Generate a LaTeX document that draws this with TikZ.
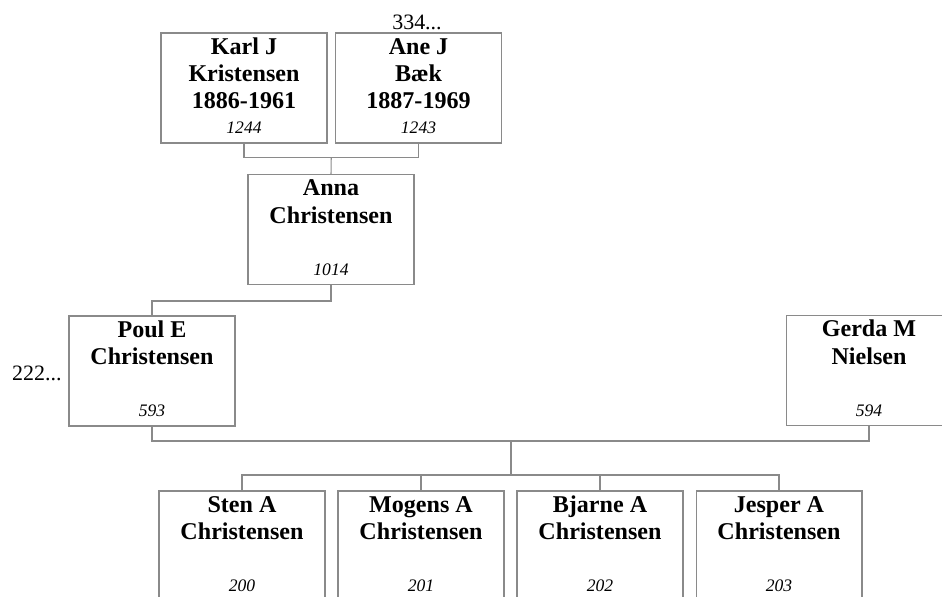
\documentclass[tikz,border=0pt]{standalone}
\usepackage{fontspec}
\setmainfont{Liberation Serif}
\usepackage{xcolor}
\usepackage{tikz}
\usetikzlibrary{positioning, calc}
\definecolor{famline}{HTML}{8A8A8A}
\newcommand{\topline}{\rule{0pt}{11pt}}

\begin{document}
\begin{tikzpicture}[
    x=0.02cm, y=-0.02cm,
    person/.style={draw=famline, line width=0.6pt, fill=white, minimum width=3.32cm, minimum height=2.2cm, inner sep=0pt},
    nametext/.style={anchor=north, yshift=-0.04cm, inner sep=0pt, align=center, font=\fontsize{13.7}{15.6}\selectfont\bfseries},
    numtext/.style={anchor=south, yshift=0.19cm, inner sep=0pt, font=\fontsize{10}{11}\selectfont\itshape},
    link/.style={draw=famline, line width=0.6pt},
    more/.style={inner sep=0pt, font=\fontsize{12.5}{14}\selectfont}
]
    \useasboundingbox (0,0) rectangle (942,596);
    \clip (0,0) rectangle (942,596);

    % Grandparents
    \node[person, label={[nametext]north:\topline Karl J\\Kristensen\\1886-1961}, label={[numtext]south:1244}] (karl) at (244,88) {};
    \node[person, label={[nametext]north:\topline Ane J\\Bæk\\1887-1969}, label={[numtext]south:1243}] (ane) at (418.5,88) {};
    \node[more] (anemore) at (417,22) {334...};

    % Mother
    \node[person, label={[nametext]north:\topline Anna\\Christensen}, label={[numtext]south:1014}] (anna) at (331,229.5) {};

    % Parents
    \node[person, label={[nametext]north:\topline Poul E\\Christensen}, label={[numtext]south:593}] (poul) at (152,371) {};
    \node[more, anchor=east] (poulmore) at (62,373) {222...};
    \node[person, label={[nametext]north:\topline Gerda M\\Nielsen}, label={[numtext]south:594}] (gerda) at (869,370.5) {};

    % Children
    \node[person, label={[nametext]north:\topline Sten A\\Christensen}, label={[numtext]south:200}] (sten) at (242,546) {};
    \node[person, label={[nametext]north:\topline Mogens A\\Christensen}, label={[numtext]south:201}] (mogens) at (421,546) {};
    \node[person, label={[nametext]north:\topline Bjarne A\\Christensen}, label={[numtext]south:202}] (bjarne) at (600,546) {};
    \node[person, label={[nametext]north:\topline Jesper A\\Christensen}, label={[numtext]south:203}] (jesper) at (779,546) {};

    % Lines
    \coordinate (kaj) at ($(karl.south)!0.5!(ane.south)+(0,14)$);
    \draw[link] (karl.south) |- (kaj) -| (ane.south);
    \draw[link] (kaj) -- (anna.north);
    \draw[link] (anna.south) -- ++(0,16) -| (poul.north);
    \coordinate (pg) at (511,441);
    \coordinate (kids) at (511,475);
    \draw[link] (poul.south) |- (pg) -| (gerda.south);
    \draw[link] (pg) -- (kids);
    \foreach \kid in {sten, mogens, bjarne, jesper}
        \draw[link] (kids) -| (\kid.north);
\end{tikzpicture}
\end{document}
